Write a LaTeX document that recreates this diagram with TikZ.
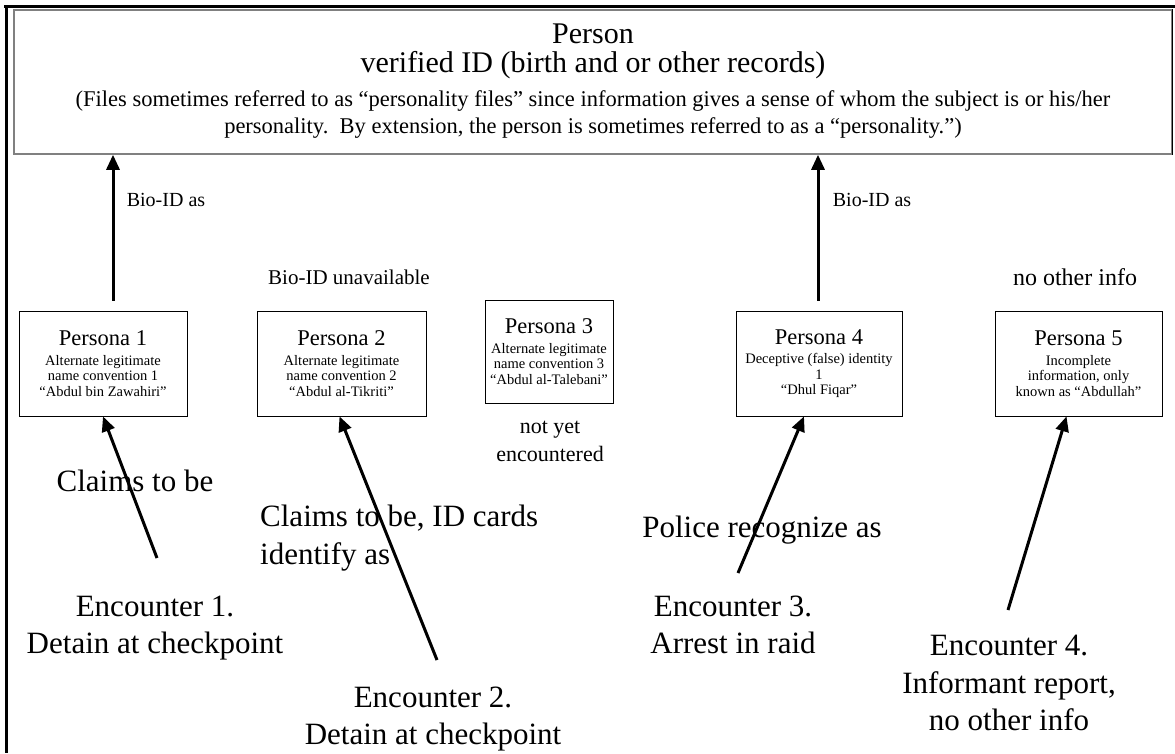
\documentclass[tikz,border=0pt]{standalone}
\usepackage{fontspec}
\setmainfont{Liberation Serif}
\usetikzlibrary{arrows.meta,calc}
\newcommand{\ptitle}[1]{{\fontsize{22.5}{24}\selectfont #1}}
\newcommand{\psmall}{\fontsize{14.5}{15.5}\selectfont}
\tikzset{
  frame/.style={line width=3pt,black},
  pbox/.style={draw=black,line width=0.8pt,inner sep=0pt,align=center,font=\psmall},
  arr/.style={line width=3pt,-{Triangle[length=15pt,width=13pt]}},
  big/.style={font=\fontsize{31}{37.5}\selectfont,align=center,inner sep=0pt},
  mid/.style={font=\fontsize{20}{24}\selectfont,align=center,inner sep=0pt},
  nyet/.style={font=\fontsize{22}{28}\selectfont,align=center,inner sep=0pt},
}
\begin{document}
\begin{tikzpicture}[x=1pt,y=-1pt]
\useasboundingbox (0,0) rectangle (1175,753);
% outer frame (top and left)
\draw[frame] (4,6.5) -- (1175,6.5);
\draw[frame] (6,5) -- (6,753);
% top box
\node[draw=gray,line width=1.5pt,minimum width=1158pt,minimum height=144pt,inner sep=0pt] (person) at (593,82) {};
\draw[black,line width=1pt] (person.north east) -- (person.south east);
\node[font=\fontsize{30}{29}\selectfont,align=center,inner sep=0pt] (ptop) at (593,51) {Person\\verified ID (birth and or other records)};
\node[font=\fontsize{22.5}{27}\selectfont,align=center,inner sep=0pt] (pfiles) at (593,115) {(Files sometimes referred to as “personality files” since information gives a sense of whom the subject is or his/her\\personality.\ \ By extension, the person is sometimes referred to as a “personality.”)};
% persona boxes
\node[pbox,minimum width=168pt,minimum height=105pt] (p1) at (103,363.5) {\ptitle{Persona 1}\\[4pt]Alternate legitimate\\name convention 1\\“Abdul bin Zawahiri”};
\node[pbox,minimum width=169pt,minimum height=105pt] (p2) at (341.5,363.5) {\ptitle{Persona 2}\\[4pt]Alternate legitimate\\name convention 2\\“Abdul al-Tikriti”};
\node[pbox,minimum width=128pt,minimum height=103pt] (p3) at (549,351.5) {\ptitle{Persona 3}\\[4pt]Alternate legitimate\\name convention 3\\“Abdul al-Talebani”};
\node[pbox,minimum width=166pt,minimum height=105pt] (p4) at (819,363.5) {\ptitle{Persona 4}\\[4pt]Deceptive (false) identity\\1\\“Dhul Fiqar”};
\node[pbox,minimum width=167pt,minimum height=105pt] (p5) at (1078.5,363.5) {\ptitle{Persona 5}\\[4pt]Incomplete\\information, only\\known as “Abdullah”};
% labels
\node[mid] (bio1) at (166,200) {Bio-ID as};
\node[mid] (bio2) at (872,200) {Bio-ID as};
\node[mid,font=\fontsize{21}{24}\selectfont] (bionone) at (349,277) {Bio-ID unavailable};
\node[mid,font=\fontsize{24}{24}\selectfont] (noinfo) at (1075,277) {no other info};
\node[nyet] (notyet) at (550,441) {not yet\\encountered};
\node[big] (claim1) at (135,481) {Claims to be};
\node[big,align=left,anchor=west] (claim2) at (260,538) {Claims to be, ID cards\\identify as};
\node[big] (police) at (762,530) {Police recognize as};
\node[big] (enc1) at (155,628) {Encounter 1.\\Detain at checkpoint};
\node[big] (enc2) at (433,719) {Encounter 2.\\Detain at checkpoint};
\node[big] (enc3) at (733,625) {Encounter 3.\\Arrest in raid};
\node[big] (enc4) at (1009,683) {Encounter 4.\\Informant report,\\no other info};
% Bio-ID arrows
\draw[arr] ([xshift=10pt,yshift=10pt]p1.north) -- ([xshift=10pt]p1.north |- person.south);
\draw[arr] ([xshift=-1pt,yshift=10pt]p4.north) -- ([xshift=-1pt]p4.north |- person.south);
% encounter arrows
\coordinate (t1) at (157,558);
\coordinate (t2) at (437,660);
\coordinate (t3) at (738,573);
\coordinate (t4) at (1008,610);
\draw[arr] (t1) -- (p1.south);
\draw[arr] (t2) -- ([xshift=-2pt]p2.south);
\draw[arr] (t3) -- ([xshift=-15pt]p4.south);
\draw[arr] (t4) -- ([xshift=-12pt]p5.south);
\end{tikzpicture}
\end{document}
